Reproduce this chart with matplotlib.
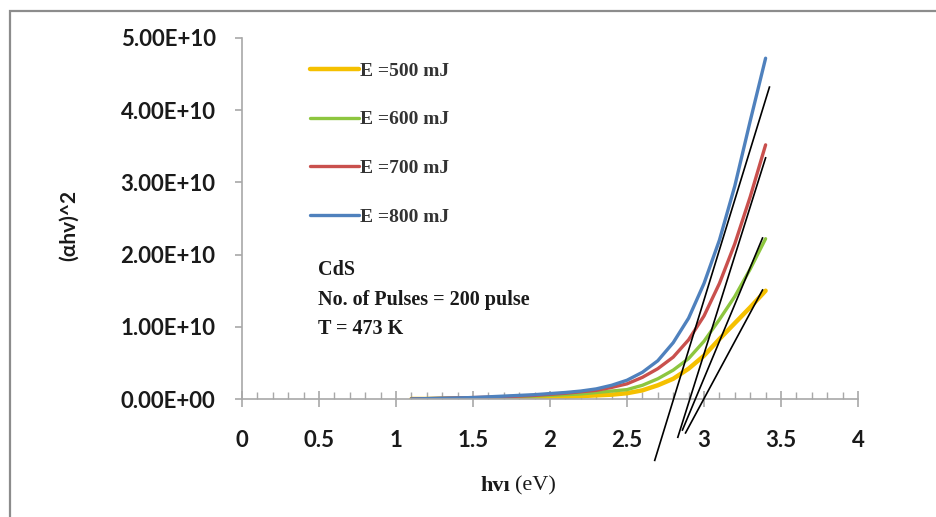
import matplotlib
matplotlib.use("Agg")
import matplotlib.pyplot as plt
import numpy as np
from matplotlib.patches import Rectangle
from matplotlib.ticker import FuncFormatter, MultipleLocator

# photon energy (eV), shared by all four curves
hv = [1.1, 1.3, 1.5, 1.7, 1.9, 2.1, 2.2, 2.3, 2.4, 2.5,
      2.6, 2.7, 2.8, 2.9, 3.0, 3.1, 3.2, 3.3, 3.4]

# (alpha h v)^2 in units of 1e10
e500 = [0.0, 0.0, 0.01, 0.01, 0.02, 0.03, 0.04, 0.05, 0.06, 0.08,
        0.12, 0.19, 0.28, 0.42, 0.60, 0.83, 1.05, 1.27, 1.50]
e600 = [0.0, 0.01, 0.01, 0.02, 0.04, 0.06, 0.07, 0.09, 0.11, 0.13,
        0.19, 0.28, 0.40, 0.56, 0.80, 1.10, 1.42, 1.80, 2.22]
e700 = [0.0, 0.01, 0.02, 0.03, 0.05, 0.08, 0.10, 0.12, 0.16, 0.21,
        0.30, 0.42, 0.58, 0.82, 1.15, 1.60, 2.15, 2.80, 3.52]
e800 = [0.0, 0.01, 0.02, 0.04, 0.06, 0.09, 0.11, 0.14, 0.19, 0.26,
        0.37, 0.53, 0.78, 1.12, 1.60, 2.20, 2.95, 3.85, 4.72]

labels = ["E =500 mJ", "E =600 mJ", "E =700 mJ", "E =800 mJ"]
colors = ["#F5C000", "#8DC63F", "#C9504D", "#4F81BD"]

# linear fits for the band gap, given as end points (eV, 1e10)
fit_x = [(2.88, 3.38), (2.86, 3.38), (2.83, 3.40), (2.68, 3.425)]
fit_y = [(-0.47, 1.51), (-0.43, 2.23), (-0.53, 3.34), (-0.85, 4.32)]

W, H = 936, 517
fig = plt.figure(figsize=(W / 100, H / 100), dpi=100)
fig.patches.append(Rectangle((10 / W, -0.1), 1.2, 1.1 - 11 / H,
                             transform=fig.transFigure, fill=False,
                             edgecolor="#8c8c8c", linewidth=1.6))

ax = fig.add_axes([242 / W, 118 / H, 616 / W, 361 / H])
scale = 1e10
for ys, lab, col in zip([e500, e600, e700, e800], labels, colors):
    lw = 3.2 if col == "#F5C000" else 2.4
    ax.plot(hv, np.array(ys) * scale, color=col, lw=lw, label=lab,
            solid_capstyle="round", zorder=2)
for fx, fy in zip(fit_x, fit_y):
    ax.plot(fx, np.array(fy) * scale, color="black", lw=1.2, clip_on=False,
            zorder=3)

ax.set_xlim(0, 4)
ax.set_ylim(0, 5e10)
for side in ("top", "right"):
    ax.spines[side].set_visible(False)
for side in ("left", "bottom"):
    ax.spines[side].set_color("#a8a8a8")
    ax.spines[side].set_linewidth(1.2)

ax.xaxis.set_major_locator(MultipleLocator(0.5))
ax.xaxis.set_minor_locator(MultipleLocator(0.1))
ax.yaxis.set_major_locator(MultipleLocator(1e10))
ax.xaxis.set_major_formatter(FuncFormatter(lambda v, p: f"{v:g}"))
ax.yaxis.set_major_formatter(FuncFormatter(lambda v, p: f"{v:.2E}"))
ax.tick_params(axis="x", which="major", direction="inout", length=12,
               width=1.2, color="#a8a8a8", pad=16)
ax.tick_params(axis="x", which="minor", direction="in", length=5,
               width=1, color="#a8a8a8")
ax.tick_params(axis="y", which="major", direction="out", length=5,
               width=1.2, color="#a8a8a8", pad=14)
for t in ax.get_xticklabels() + ax.get_yticklabels():
    t.set_fontfamily("Lato")
    t.set_fontweight("bold")
    t.set_fontsize(16)
    t.set_color("#1a1a1a")

leg = ax.legend(loc="upper left", bbox_to_anchor=(310 / W, 1 - 62 / H),
                bbox_transform=fig.transFigure, frameon=False,
                handlelength=2.5, handletextpad=0.05, labelspacing=1.6,
                borderpad=0, borderaxespad=0,
                prop={"family": "Liberation Serif", "weight": "bold",
                      "size": 14})
for t in leg.get_texts():
    t.set_color("#333333")

fig.text(318 / W, 1 - 260 / H, "CdS\nNo. of Pulses = 200 pulse\nT = 473 K",
         ha="left", va="top", fontfamily="Liberation Serif",
         fontweight="bold", fontsize=14.5, linespacing=1.65, color="#1a1a1a")

fig.text(69 / W, 1 - 225 / H, "(αhv)^2", rotation=90, ha="center",
         va="center", fontfamily="Lato", fontweight="bold", fontsize=15,
         color="#1a1a1a")
fig.text(510 / W, 1 - 486 / H, "hvı", ha="right", va="center",
         fontfamily="Liberation Serif", fontweight="bold", fontsize=16,
         color="#1a1a1a")
fig.text(515 / W, 1 - 486 / H, "(eV)", ha="left", va="center",
         fontfamily="Liberation Serif", fontsize=16, color="#1a1a1a")

fig.savefig("out.png", dpi=100)
